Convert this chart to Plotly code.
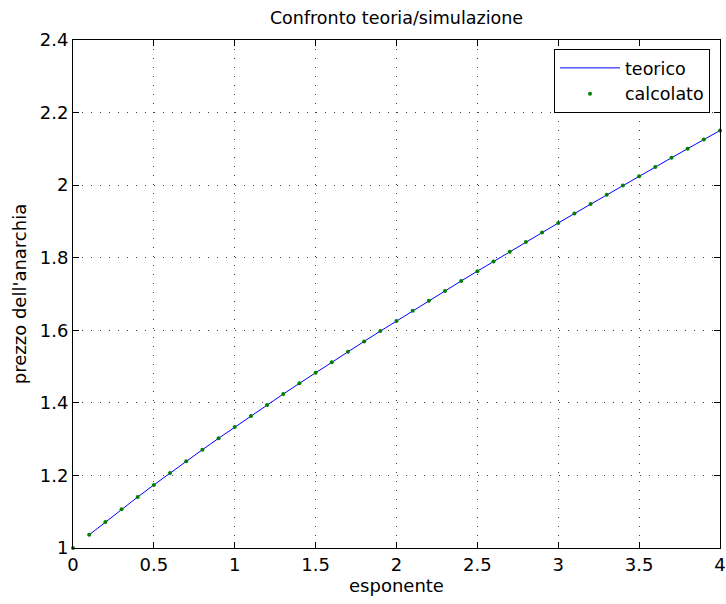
import plotly.graph_objects as go

esponente = [0.0, 0.1, 0.2, 0.3, 0.4, 0.5, 0.6, 0.7, 0.8, 0.9, 1.0,
             1.1, 1.2, 1.3, 1.4, 1.5, 1.6, 1.7, 1.8, 1.9, 2.0,
             2.1, 2.2, 2.3, 2.4, 2.5, 2.6, 2.7, 2.8, 2.9, 3.0,
             3.1, 3.2, 3.3, 3.4, 3.5, 3.6, 3.7, 3.8, 3.9, 4.0]
calcolato = [1.0, 1.0363, 1.0718, 1.1065, 1.1405, 1.1739, 1.2068, 1.2391, 1.2709, 1.3023, 1.3333,
             1.3640, 1.3942, 1.4242, 1.4538, 1.4831, 1.5121, 1.5409, 1.5694, 1.5977, 1.6258,
             1.6536, 1.6812, 1.7086, 1.7359, 1.7629, 1.7898, 1.8165, 1.8430, 1.8694, 1.8956,
             1.9217, 1.9477, 1.9734, 1.9991, 2.0246, 2.0501, 2.0753, 2.1005, 2.1255, 2.1505]
teorico_x = esponente[1:]
teorico_y = calcolato[1:]

xticks = [0, 0.5, 1, 1.5, 2, 2.5, 3, 3.5, 4]
yticks = [1, 1.2, 1.4, 1.6, 1.8, 2, 2.2, 2.4]

FONT = "DejaVu Sans, sans-serif"

fig = go.Figure()
fig.add_trace(go.Scatter(x=teorico_x, y=teorico_y, mode="lines", name="teorico",
                         line=dict(color="#0000ff", width=1), cliponaxis=False))
fig.add_trace(go.Scatter(x=esponente, y=calcolato, mode="markers", name="calcolato",
                         marker=dict(color="#008000", size=4), cliponaxis=False))

axis_common = dict(showline=True, linecolor="black", linewidth=1, mirror="ticks",
                   ticks="inside", ticklen=6, tickcolor="black", automargin=False,
                   showgrid=True, gridcolor="#404040", griddash="1px,8px", gridwidth=1,
                   zeroline=False, tickfont=dict(size=18, color="black", family=FONT))

fig.update_xaxes(range=[0, 4], tickvals=xticks, ticktext=[f"{v:g}" for v in xticks],
                 title=dict(text="esponente", font=dict(size=18, color="black", family=FONT), standoff=2),
                 **axis_common)
fig.update_yaxes(range=[1, 2.4], tickvals=yticks, ticktext=[f"{v:g}" for v in yticks],
                 title=dict(text="prezzo dell'anarchia", font=dict(size=18, color="black", family=FONT), standoff=8),
                 **axis_common)

fig.update_layout(
    width=726, height=604,
    margin=dict(l=73, r=6, t=40, b=56, autoexpand=False),
    paper_bgcolor="white", plot_bgcolor="white",
    font=dict(family=FONT, color="black"),
    title=dict(text="Confronto teoria/simulazione", x=(73 + 720) / 2 / 726, xanchor="center",
               y=1 - 18 / 604, yanchor="middle", font=dict(size=17.5, color="black", family=FONT)),
    showlegend=True,
    legend=dict(x=(710 - 73) / 647, y=(548 - 49) / 508, xanchor="right", yanchor="top",
                bordercolor="black", borderwidth=1, bgcolor="white",
                font=dict(size=17.5, color="black", family=FONT), itemwidth=60,
                tracegroupgap=0),
)

fig.write_html("out.html", config={"displayModeBar": False},
               post_script="document.body.style.margin='0px';")
